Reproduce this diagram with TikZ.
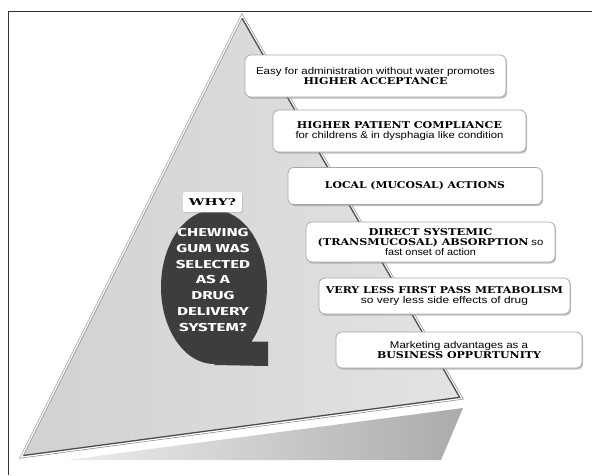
\documentclass[tikz,border=0pt]{standalone}
\usepackage{fontspec}
\usepackage{graphicx}
\setmainfont{Liberation Sans}
\newfontfamily\slabfont{DejaVu Serif}
\newfontfamily\qfont{Fira Sans}
\usetikzlibrary{shadows,calc}
% heading line (heavy slab) scaled to a given width
\newcommand{\hd}[2]{\resizebox{#1pt}{\height}{\slabfont\bfseries\fontsize{9.4}{9.4}\selectfont #2}}
% plain line scaled to a given width
\newcommand{\tx}[2]{\resizebox{#1pt}{\height}{#2}}
\newcommand{\qx}[1]{\scalebox{1.47}[1]{#1}}
\tikzset{
  infobox/.style={draw=black!35, line width=0.7pt, fill=white, rounded corners=6pt,
    drop shadow={shadow xshift=1.2pt, shadow yshift=-1.6pt, fill=black!45, opacity=0.55},
    align=center, inner sep=2pt, font=\fontsize{9.8}{10.4}\selectfont},
  qtext/.style={text=white, align=center, inner sep=0pt, font=\qfont\bfseries\fontsize{11.5}{15.8}\selectfont},
  whybox/.style={fill=white, rounded corners=2pt, minimum width=59pt, minimum height=20pt,
    drop shadow={shadow xshift=0.8pt, shadow yshift=-1pt, fill=black!40, opacity=0.5}},
}
\begin{document}
\begin{tikzpicture}[x=1pt,y=-1pt]
\useasboundingbox (0,0) rectangle (592,475);
% frame
\draw[black!80, line width=0.8pt] (8,475) -- (8,11) -- (592,11);
% pyramid
\coordinate (A) at (242,14);
\coordinate (L) at (20,458);
\coordinate (R) at (463,399);
\coordinate (G) at (241.7,290.3);
% lower face
\shade[left color=black!7, right color=black!33] (67,460) -- (463,408) -- (441,460) -- cycle;
% front face
\shade[left color=black!18, right color=black!11] (A) -- (L) -- (R) -- cycle;
\draw[black!45, line width=1pt, line join=miter] (A) -- (L) -- (R) -- cycle;
\coordinate (A2) at ($(G)!0.985!(A)$);
\coordinate (L2) at ($(G)!0.985!(L)$);
\coordinate (R2) at ($(G)!0.985!(R)$);
\draw[white, line width=1.6pt] ($(G)!0.993!(A)$) -- ($(G)!0.993!(L)$) -- ($(G)!0.993!(R)$) -- cycle;
\draw[black!40, line width=0.7pt] (A2) -- (L2);
\draw[black!70, line width=1.3pt] (L2) -- (R2) -- (A2);
% boxes
\node[infobox, minimum width=261pt, minimum height=42pt] (b1) at (375.5,76)
  {\tx{239}{Easy for administration without water promotes}\\ \hd{144}{HIGHER ACCEPTANCE}};
\node[infobox, minimum width=253pt, minimum height=42pt] (b2) at (399.5,131)
  {\hd{205}{HIGHER PATIENT COMPLIANCE}\\ \tx{208}{for childrens \& in dysphagia like condition}};
\node[infobox, minimum width=254pt, minimum height=37pt] (b3) at (415,186)
  {\hd{180}{LOCAL (MUCOSAL) ACTIONS}};
\node[infobox, minimum width=249pt, minimum height=40pt] (b4) at (430.5,242)
  {\hd{124}{DIRECT SYSTEMIC}\\ \hd{211}{(TRANSMUCOSAL) ABSORPTION}\ \scalebox{1.15}[1]{so}\\ \tx{91}{fast onset of action}};
\node[infobox, minimum width=251pt, minimum height=36pt] (b5) at (444.5,296)
  {\hd{237}{VERY LESS FIRST PASS METABOLISM}\\ \tx{167}{so very less side effects of drug}};
\node[infobox, minimum width=246pt, minimum height=36pt] (b6) at (459,350)
  {\tx{138}{Marketing advantages as a}\\ \hd{164}{BUSINESS OPPURTUNITY}};
% Q shape
\fill[black!76] (214,287) ellipse [x radius=53pt, y radius=77pt];
\fill[black!76] (245,341) -- (268,341) -- (268,366) -- (214,365) -- cycle;
\draw[black!35, line width=0.6pt] (252,341) -- (268,341);
\node[qtext] (q) at (213,280) {\qx{CHEWING}\\\qx{GUM WAS}\\\qx{SELECTED}\\\qx{AS A}\\\qx{DRUG}\\\qx{DELIVERY}\\\qx{SYSTEM?}};
\node[whybox] (why) at (212.5,202) {\hd{47}{WHY?}};
\end{tikzpicture}
\end{document}
